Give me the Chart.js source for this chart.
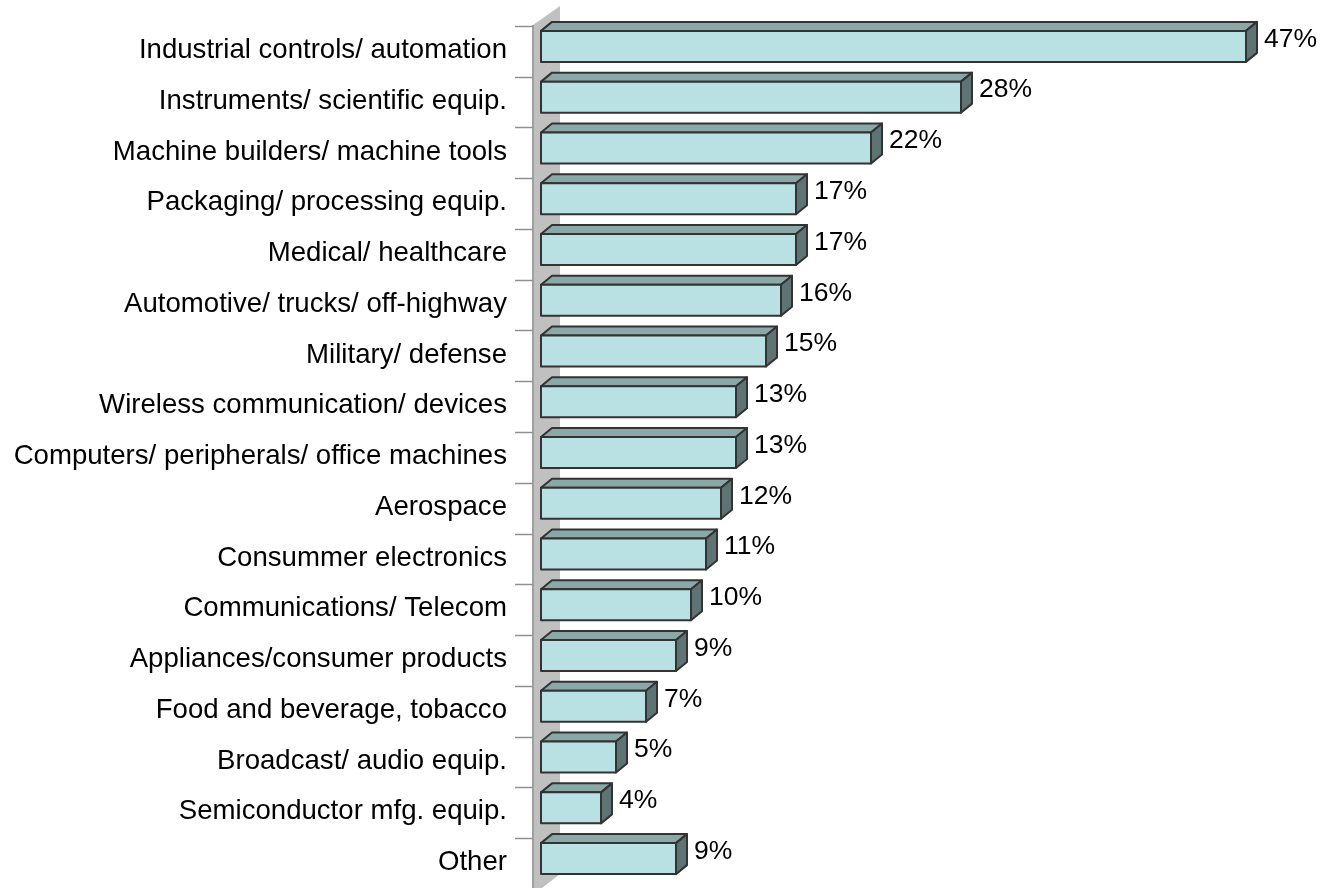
<!DOCTYPE html>
<html>
<head>
<meta charset="utf-8">
<script src="https://cdn.jsdelivr.net/npm/chart.js@4"></script>
<style>
    html, body { margin: 0; padding: 0; background: #ffffff; }
    #wrap { width: 1326px; height: 888px; position: relative; }
</style>
</head>
<body>
<div id="wrap"><canvas id="barChart"></canvas></div>
<script>
// Categories and values (percent of respondents)
const categories = [
    "Industrial controls/ automation",
    "Instruments/ scientific equip.",
    "Machine builders/ machine tools",
    "Packaging/ processing equip.",
    "Medical/ healthcare",
    "Automotive/ trucks/ off-highway",
    "Military/ defense",
    "Wireless communication/ devices",
    "Computers/ peripherals/ office machines",
    "Aerospace",
    "Consummer electronics",
    "Communications/ Telecom",
    "Appliances/consumer products",
    "Food and beverage, tobacco",
    "Broadcast/ audio equip.",
    "Semiconductor mfg. equip.",
    "Other"
];
const values = [47, 28, 22, 17, 17, 16, 15, 13, 13, 12, 11, 10, 9, 7, 5, 4, 9];

const FONT = "'Liberation Sans', Arial, sans-serif";
const DEPTH_X = 11;
const DEPTH_Y = 9;

// Draws the grey back wall, axis line and tick marks
const wallPlugin = {
    id: "wall",
    beforeDatasetsDraw(chart) {
        const ctx = chart.ctx;
        const yScale = chart.scales.y;
        const left = chart.chartArea.left - 8;
        ctx.save();
        ctx.fillStyle = "#c0c0c0";
        ctx.beginPath();
        ctx.moveTo(left, 25);
        ctx.lineTo(left + 27, 6);
        ctx.lineTo(left + 27, 874);
        ctx.lineTo(left, 895);
        ctx.closePath();
        ctx.fill();

        ctx.strokeStyle = "#a0a0a0";
        ctx.lineWidth = 2;
        ctx.beginPath();
        ctx.moveTo(left, 25);
        ctx.lineTo(left, 888);
        ctx.stroke();

        // tick marks between categories
        ctx.strokeStyle = "#909090";
        ctx.lineWidth = 1.5;
        categories.forEach((c, i) => {
            const y = Math.round(yScale.getPixelForTick(i) - 20.5) + 0.5;
            ctx.beginPath();
            ctx.moveTo(left - 18, y);
            ctx.lineTo(left, y);
            ctx.stroke();
        });
        ctx.restore();
    }
};

// Draws each bar as a 3D box plus its value label
const box3dPlugin = {
    id: "box3d",
    afterDatasetsDraw(chart) {
        const ctx = chart.ctx;
        const meta = chart.getDatasetMeta(0);
        ctx.save();
        meta.data.forEach((bar, i) => {
            const x0 = bar.base;
            const x1 = bar.x;
            const top = bar.y - bar.height / 2;
            const bottom = bar.y + bar.height / 2;

            ctx.lineJoin = "round";
            ctx.strokeStyle = "#333333";
            ctx.lineWidth = 2;

            // top face
            ctx.fillStyle = "#8aa8a8";
            ctx.beginPath();
            ctx.moveTo(x0, top);
            ctx.lineTo(x0 + DEPTH_X, top - DEPTH_Y);
            ctx.lineTo(x1 + DEPTH_X, top - DEPTH_Y);
            ctx.lineTo(x1, top);
            ctx.closePath();
            ctx.fill();
            ctx.stroke();

            // side face
            ctx.fillStyle = "#5e7474";
            ctx.beginPath();
            ctx.moveTo(x1, top);
            ctx.lineTo(x1 + DEPTH_X, top - DEPTH_Y);
            ctx.lineTo(x1 + DEPTH_X, bottom - DEPTH_Y);
            ctx.lineTo(x1, bottom);
            ctx.closePath();
            ctx.fill();
            ctx.stroke();

            // front face
            ctx.fillStyle = "#b9e0e3";
            ctx.fillRect(x0, top, x1 - x0, bottom - top);
            ctx.strokeRect(x0, top, x1 - x0, bottom - top);

            // value label
            ctx.fillStyle = "#000000";
            ctx.font = "26.5px " + FONT;
            ctx.textAlign = "left";
            ctx.textBaseline = "middle";
            ctx.fillText(values[i] + "%", x1 + 18, bar.y - 7);
        });
        ctx.restore();
    }
};

const ctx = document.getElementById("barChart").getContext("2d");
const barChart = new Chart(ctx, {
    type: "bar",
    data: {
        labels: categories,
        datasets: [{
            data: values,
            backgroundColor: "rgba(0,0,0,0)",
            borderWidth: 0,
            barThickness: 31
        }]
    },
    options: {
        indexAxis: "y",
        responsive: true,
        maintainAspectRatio: false,
        animation: false,
        layout: {
            padding: { top: 21, bottom: 4, left: 0, right: 35 }
        },
        plugins: {
            legend: { display: false },
            tooltip: { enabled: false }
        },
        scales: {
            x: {
                display: false,
                min: 0,
                max: 50
            },
            y: {
                afterFit: (scale) => {
                    scale.width = 541;
                    scale.paddingTop = 0;
                    scale.paddingBottom = 0;
                },
                border: { display: false },
                grid: { display: false, drawTicks: false },
                ticks: {
                    color: "#000000",
                    padding: 34,
                    labelOffset: 4,
                    font: { family: FONT, size: 27.6 }
                }
            }
        }
    },
    plugins: [wallPlugin, box3dPlugin]
});
</script>
</body>
</html>
